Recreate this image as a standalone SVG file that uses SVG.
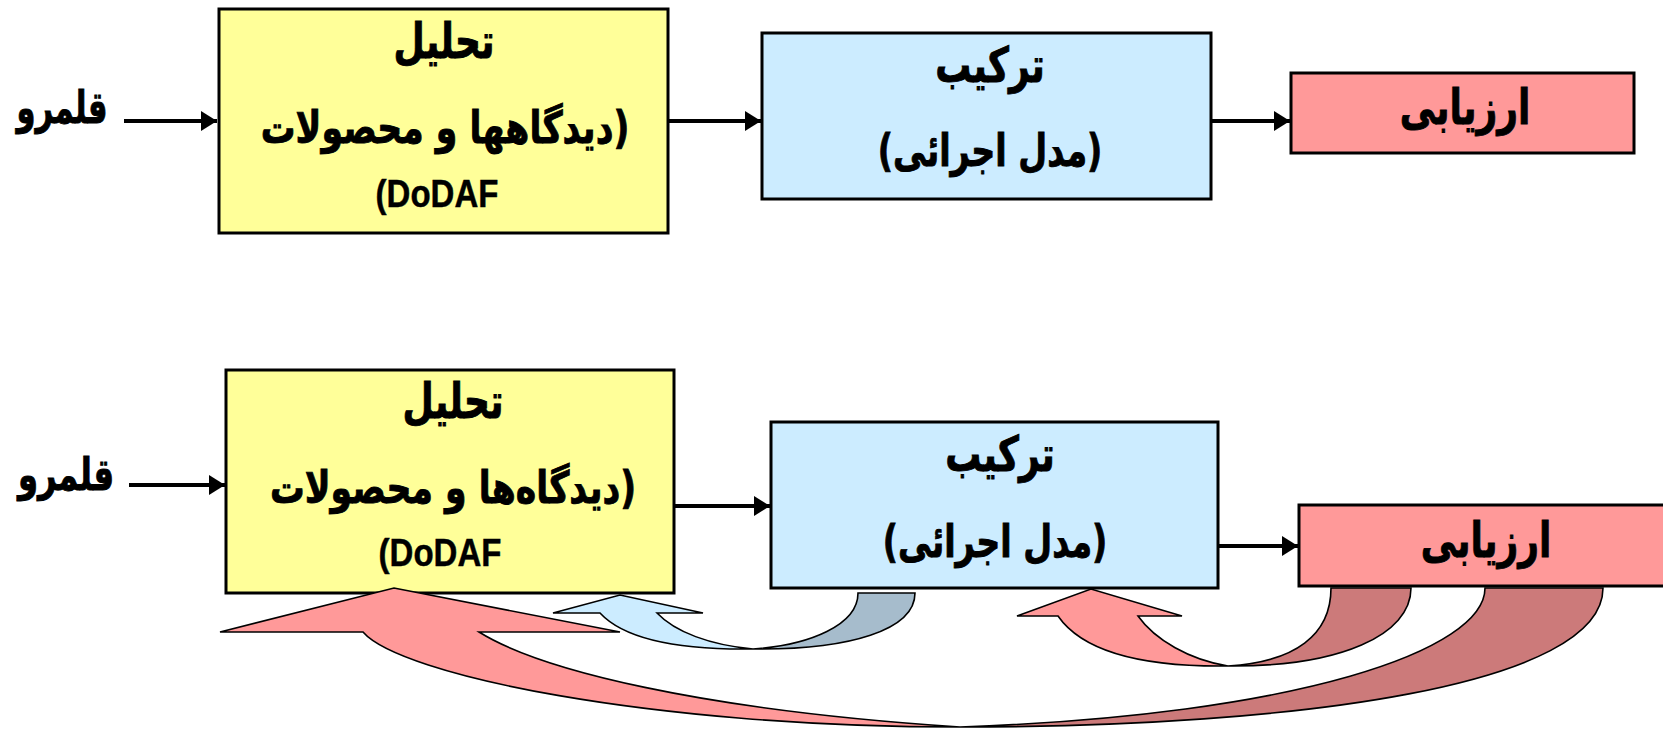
<svg xmlns="http://www.w3.org/2000/svg" width="1663" height="730" viewBox="0 0 1663 730">
  <style>
    .box { stroke: #000; stroke-width: 3; }
    .yellow { fill: #FFFF99; }
    .blue { fill: #CCECFF; }
    .pink { fill: #FF9999; }
    .fa { font-family: 'DejaVu Sans', sans-serif; font-weight: bold; fill: #000; stroke: #000; stroke-width: 0.7px; direction: rtl; text-anchor: middle; }
    .title { font-size: 36px; }
    .sub { font-size: 34px; }
    .en { font-family: 'Liberation Sans', Arial, sans-serif; font-weight: bold; font-size: 33px; text-anchor: middle; fill: #000; stroke: #000; stroke-width: 0.4px; }
    .link { stroke: #000; stroke-width: 4; fill: none; marker-end: url(#head); }
    .band { stroke: #000; stroke-width: 1.6; stroke-linejoin: miter; }
    .pinkFront { fill: #FF9999; }
    .pinkBack { fill: #CC7A7A; }
    .blueFront { fill: #CCECFF; }
    .blueBack { fill: #A6BCCC; }
  </style>
  <defs>
    <marker id="head" markerWidth="16" markerHeight="20" refX="16" refY="10" orient="auto" markerUnits="userSpaceOnUse">
      <path d="M0,0 L16,10 L0,20 z" fill="#000"/>
    </marker>
  </defs>

  <rect width="1663" height="730" fill="#FFFFFF"/>

  <!-- Upper flow: domain -> analysis -> synthesis -> evaluation -->
  <text class="fa sub" transform="translate(62,123) scale(0.9,1.3)">قلمرو</text>

  <g id="analysis-1">
    <rect class="box yellow" x="219" y="9" width="449" height="224"/>
    <text class="fa title" transform="translate(444,58) scale(1,1.35)">تحلیل</text>
    <text class="fa sub" transform="translate(445,143) scale(1.02,1.3)">(دیدگاهها و محصولات</text>
    <text class="en" transform="translate(437,207) scale(1,1.2)">(DoDAF</text>
  </g>

  <g id="synthesis-1">
    <rect class="box blue" x="762" y="33" width="449" height="166"/>
    <text class="fa title" transform="translate(990,82) scale(1,1.35)">ترکیب</text>
    <text class="fa sub" transform="translate(990,166) scale(0.98,1.3)">(مدل اجرائی)</text>
  </g>

  <g id="evaluation-1">
    <rect class="box pink" x="1291" y="73" width="343" height="80"/>
    <text class="fa title" transform="translate(1465,124) scale(1,1.35)">ارزیابی</text>
  </g>

  <!-- Lower flow with feedback loops -->
  <text class="fa sub" transform="translate(66,490) scale(0.95,1.3)">قلمرو</text>

  <g id="analysis-2">
    <rect class="box yellow" x="226" y="370" width="448" height="223"/>
    <text class="fa title" transform="translate(453,418) scale(1,1.35)">تحلیل</text>
    <text class="fa sub" transform="translate(453,503) scale(1.02,1.3)">(دیدگاه‌ها و محصولات</text>
    <text class="en" transform="translate(440,566) scale(1,1.2)">(DoDAF</text>
  </g>

  <g id="synthesis-2">
    <rect class="box blue" x="771" y="422" width="447" height="166"/>
    <text class="fa title" transform="translate(1000,471) scale(1,1.35)">ترکیب</text>
    <text class="fa sub" transform="translate(995,557) scale(0.98,1.3)">(مدل اجرائی)</text>
  </g>

  <g id="evaluation-2">
    <rect class="box pink" x="1299" y="505" width="400" height="81"/>
    <text class="fa title" transform="translate(1486,557) scale(1,1.35)">ارزیابی</text>
  </g>

  <g id="connectors">
    <!-- straight flow arrows -->
    <line class="link" x1="124" y1="121" x2="217" y2="121"/>
    <line class="link" x1="669" y1="121" x2="761" y2="121"/>
    <line class="link" x1="1212" y1="121" x2="1290" y2="121"/>
    <line class="link" x1="129" y1="485" x2="225" y2="485"/>
    <line class="link" x1="675" y1="506" x2="770" y2="506"/>
    <line class="link" x1="1219" y1="546" x2="1298" y2="546"/>

    <!-- long feedback: evaluation -> analysis -->
    <g id="loop-eval-analysis">
      <path class="band pinkBack" d="M960,727 C1300,727 1603,685 1603,588 L1485,588 C1485,650 1300,715 960,727 Z"/>
      <path class="band pinkFront" d="M220,632 L394,588 L620,632 L479,632 C540,670 700,710 960,727 C650,727 400,675 363,632 Z"/>
    </g>

    <!-- feedback: synthesis -> analysis -->
    <g id="loop-synth-analysis">
      <path class="band blueBack" d="M753,649 C850,650 915,630 915,593 L858,593 C858,625 810,645 753,649 Z"/>
      <path class="band blueFront" d="M553,613 L620,595 L703,613 L657,613 C675,632 710,645 753,649 C680,650 625,640 600,613 Z"/>
    </g>

    <!-- feedback: evaluation -> synthesis -->
    <g id="loop-eval-synth">
      <path class="band pinkBack" d="M1228,666 C1340,667 1411,635 1411,588 L1331,588 C1331,635 1295,662 1228,666 Z"/>
      <path class="band pinkFront" d="M1017,616 L1091,589 L1182,616 L1138,616 C1155,640 1190,660 1228,666 C1150,667 1085,655 1058,616 Z"/>
    </g>
  </g>
</svg>
